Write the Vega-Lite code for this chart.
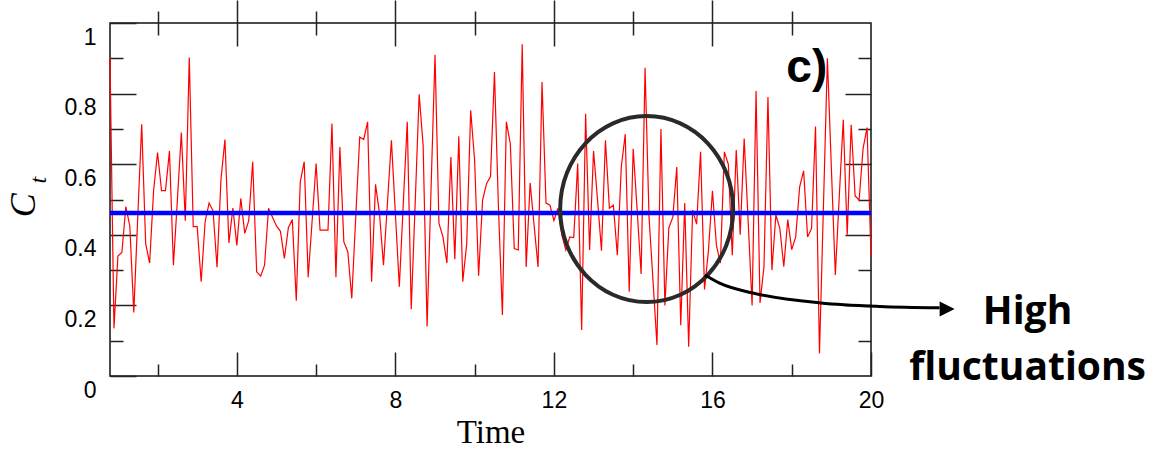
{
  "$schema": "https://vega.github.io/schema/vega-lite/v6.json",
  "width": 761,
  "height": 353,
  "autosize": {"type": "none"},
  "padding": {"left": 110, "top": 23, "right": 295, "bottom": 74},
  "background": "white",
  "data": {"values": [{}]},
  "config": {
    "view": {"stroke": "#111", "strokeWidth": 1.5},
    "axis": {"grid": false, "domain": false, "labelColor": "#000", "tickColor": "#222", "tickWidth": 1.5, "titleColor": "#000"}
  },
  "resolve": {"axis": {"x": "independent", "y": "independent"}},
  "layer": [
    {
      "data": {"values": [
        {"t":0.8,"c":0.90},{"t":0.9,"c":0.135},{"t":1.0,"c":0.34},{"t":1.1,"c":0.35},{"t":1.2,"c":0.48},{"t":1.3,"c":0.425},{"t":1.4,"c":0.18},{"t":1.5,"c":0.45},{"t":1.6,"c":0.713},{"t":1.7,"c":0.375},
        {"t":1.8,"c":0.32},{"t":1.9,"c":0.525},{"t":2.0,"c":0.633},{"t":2.1,"c":0.525},{"t":2.2,"c":0.525},{"t":2.3,"c":0.637},{"t":2.4,"c":0.314},{"t":2.5,"c":0.498},{"t":2.6,"c":0.69},{"t":2.7,"c":0.44},
        {"t":2.8,"c":0.902},{"t":2.9,"c":0.423},{"t":3.0,"c":0.423},{"t":3.1,"c":0.267},{"t":3.2,"c":0.437},{"t":3.3,"c":0.49},{"t":3.4,"c":0.468},{"t":3.5,"c":0.308},{"t":3.6,"c":0.557},{"t":3.7,"c":0.67},
        {"t":3.8,"c":0.377},{"t":3.9,"c":0.476},{"t":4.0,"c":0.37},{"t":4.1,"c":0.503},{"t":4.2,"c":0.404},{"t":4.3,"c":0.44},{"t":4.4,"c":0.607},{"t":4.5,"c":0.295},{"t":4.6,"c":0.283},{"t":4.7,"c":0.314},
        {"t":4.8,"c":0.475},{"t":4.9,"c":0.45},{"t":5.0,"c":0.425},{"t":5.1,"c":0.41},{"t":5.2,"c":0.333},{"t":5.3,"c":0.42},{"t":5.4,"c":0.443},{"t":5.5,"c":0.213},{"t":5.6,"c":0.55},{"t":5.7,"c":0.607},
        {"t":5.8,"c":0.28},{"t":5.9,"c":0.44},{"t":6.0,"c":0.602},{"t":6.1,"c":0.413},{"t":6.2,"c":0.413},{"t":6.3,"c":0.413},{"t":6.4,"c":0.715},{"t":6.5,"c":0.28},{"t":6.6,"c":0.649},{"t":6.7,"c":0.38},
        {"t":6.8,"c":0.352},{"t":6.9,"c":0.22},{"t":7.0,"c":0.45},{"t":7.1,"c":0.677},{"t":7.2,"c":0.67},{"t":7.3,"c":0.72},{"t":7.4,"c":0.267},{"t":7.5,"c":0.543},{"t":7.6,"c":0.46},{"t":7.7,"c":0.314},
        {"t":7.8,"c":0.49},{"t":7.9,"c":0.668},{"t":8.0,"c":0.46},{"t":8.1,"c":0.253},{"t":8.2,"c":0.49},{"t":8.3,"c":0.72},{"t":8.4,"c":0.189},{"t":8.5,"c":0.49},{"t":8.6,"c":0.798},{"t":8.7,"c":0.654},
        {"t":8.8,"c":0.14},{"t":8.9,"c":0.53},{"t":9.0,"c":0.91},{"t":9.1,"c":0.432},{"t":9.2,"c":0.394},{"t":9.3,"c":0.32},{"t":9.4,"c":0.62},{"t":9.5,"c":0.331},{"t":9.6,"c":0.679},{"t":9.7,"c":0.267},
        {"t":9.8,"c":0.375},{"t":9.9,"c":0.753},{"t":10.0,"c":0.61},{"t":10.1,"c":0.284},{"t":10.2,"c":0.498},{"t":10.3,"c":0.545},{"t":10.4,"c":0.565},{"t":10.5,"c":0.861},{"t":10.6,"c":0.48},{"t":10.7,"c":0.173},
        {"t":10.8,"c":0.72},{"t":10.9,"c":0.658},{"t":11.0,"c":0.361},{"t":11.1,"c":0.357},{"t":11.2,"c":0.94},{"t":11.3,"c":0.309},{"t":11.4,"c":0.547},{"t":11.5,"c":0.427},{"t":11.6,"c":0.309},{"t":11.7,"c":0.833},
        {"t":11.8,"c":0.49},{"t":11.9,"c":0.484},{"t":12.0,"c":0.44},{"t":12.1,"c":0.475},{"t":12.2,"c":0.40},{"t":12.3,"c":0.357},{"t":12.4,"c":0.394},{"t":12.5,"c":0.392},{"t":12.6,"c":0.602},{"t":12.7,"c":0.13},
        {"t":12.8,"c":0.743},{"t":12.9,"c":0.357},{"t":13.0,"c":0.637},{"t":13.1,"c":0.5},{"t":13.2,"c":0.355},{"t":13.3,"c":0.668},{"t":13.4,"c":0.475},{"t":13.5,"c":0.484},{"t":13.6,"c":0.342},{"t":13.7,"c":0.592},
        {"t":13.8,"c":0.685},{"t":13.9,"c":0.239},{"t":14.0,"c":0.644},{"t":14.1,"c":0.47},{"t":14.2,"c":0.289},{"t":14.3,"c":0.873},{"t":14.4,"c":0.45},{"t":14.5,"c":0.27},{"t":14.6,"c":0.088},{"t":14.7,"c":0.70},
        {"t":14.8,"c":0.2},{"t":14.9,"c":0.42},{"t":15.0,"c":0.45},{"t":15.1,"c":0.592},{"t":15.2,"c":0.144},{"t":15.3,"c":0.49},{"t":15.4,"c":0.083},{"t":15.5,"c":0.47},{"t":15.6,"c":0.43},{"t":15.7,"c":0.635},
        {"t":15.8,"c":0.245},{"t":15.9,"c":0.357},{"t":16.0,"c":0.525},{"t":16.1,"c":0.37},{"t":16.2,"c":0.32},{"t":16.3,"c":0.635},{"t":16.4,"c":0.60},{"t":16.5,"c":0.342},{"t":16.6,"c":0.64},{"t":16.7,"c":0.40},
        {"t":16.8,"c":0.673},{"t":16.9,"c":0.44},{"t":17.0,"c":0.2},{"t":17.1,"c":0.807},{"t":17.2,"c":0.207},{"t":17.3,"c":0.31},{"t":17.4,"c":0.79},{"t":17.5,"c":0.3},{"t":17.6,"c":0.456},{"t":17.7,"c":0.418},
        {"t":17.8,"c":0.31},{"t":17.9,"c":0.443},{"t":18.0,"c":0.358},{"t":18.1,"c":0.394},{"t":18.2,"c":0.536},{"t":18.3,"c":0.581},{"t":18.4,"c":0.394},{"t":18.5,"c":0.418},{"t":18.6,"c":0.707},{"t":18.7,"c":0.064},
        {"t":18.8,"c":0.48},{"t":18.9,"c":0.90},{"t":19.0,"c":0.59},{"t":19.1,"c":0.286},{"t":19.2,"c":0.51},{"t":19.3,"c":0.726},{"t":19.4,"c":0.4},{"t":19.5,"c":0.712},{"t":19.6,"c":0.51},{"t":19.7,"c":0.498},
        {"t":19.8,"c":0.644},{"t":19.9,"c":0.704},{"t":20.0,"c":0.342}
      ]},
      "mark": {"type": "line", "color": "#ff0000", "strokeWidth": 1.2},
      "encoding": {
        "x": {"field": "t", "type": "quantitative", "scale": {"domain": [0.8, 20], "nice": false, "zero": false},
          "axis": {"orient": "bottom", "values": [4, 8, 12, 16, 20], "format": "~g", "tickSize": -24, "labelPadding": 37, "labelFontSize": 23, "labelFont": "Liberation Sans", "labelFlush": false, "labelOverlap": false,
            "title": "Time", "titleFont": "Liberation Serif", "titleFontSize": 33, "titleFontWeight": "normal", "titlePadding": 4}},
        "y": {"field": "c", "type": "quantitative", "scale": {"domain": [0, 1], "nice": false, "zero": false},
          "axis": {"orient": "left", "values": [0, 0.2, 0.4, 0.6, 0.8, 1], "format": "~g", "tickSize": -26, "labelPadding": 40, "labelOffset": 14, "labelFontSize": 23, "labelFont": "Liberation Sans", "labelOverlap": false, "labelBound": false, "title": null}}
      }
    },
    {
      "mark": {"type": "rule", "color": "#0000ff", "strokeWidth": 4.5},
      "encoding": {
        "y": {"datum": 0.462, "type": "quantitative", "scale": {"domain": [0, 1], "nice": false, "zero": false}, "axis": null}
      }
    },
    {
      "mark": {"type": "point", "shape": "M -0.93 0 A 0.93 1 0 1 0 0.93 0 A 0.93 1 0 1 0 -0.93 0 Z", "size": 34596, "filled": false, "stroke": "#2a2a2a", "strokeWidth": 4, "opacity": 1},
      "encoding": {
        "x": {"datum": 14.34, "type": "quantitative", "scale": {"domain": [0.8, 20], "nice": false, "zero": false},
          "axis": {"orient": "bottom", "values": [2, 6, 10, 14, 18], "tickSize": -12, "labels": false, "title": null}},
        "y": {"datum": 0.473, "type": "quantitative", "scale": {"domain": [0, 1], "nice": false, "zero": false},
          "axis": {"orient": "left", "values": [0.1, 0.3, 0.5, 0.7, 0.9], "tickSize": -13, "labels": false, "title": null}}
      }
    },
    {
      "data": {"values": [
        {"t": 15.81, "c": 0.286}, {"t": 16.18, "c": 0.263}, {"t": 17.02, "c": 0.235}, {"t": 18.73, "c": 0.207}, {"t": 20.22, "c": 0.197}, {"t": 21.73, "c": 0.193}
      ]},
      "mark": {"type": "line", "color": "#000", "strokeWidth": 3, "interpolate": "monotone", "clip": false},
      "encoding": {
        "x": {"field": "t", "type": "quantitative", "scale": {"domain": [0.8, 20], "nice": false, "zero": false},
          "axis": {"orient": "top", "values": [4, 8, 12, 16], "offset": -23, "tickSize": 46, "labels": false, "title": null}},
        "y": {"field": "c", "type": "quantitative", "scale": {"domain": [0, 1], "nice": false, "zero": false},
          "axis": {"orient": "right", "values": [0.2, 0.4, 0.6, 0.8], "tickSize": -26, "labels": false, "title": null}}
      }
    },
    {
      "mark": {"type": "point", "shape": "M -1 -1 L 1 0 L -1 1 Z", "size": 225, "filled": true, "color": "#000", "opacity": 1},
      "encoding": {
        "x": {"datum": 21.92, "type": "quantitative", "scale": {"domain": [0.8, 20], "nice": false, "zero": false},
          "axis": {"orient": "top", "values": [2, 6, 10, 14, 18], "offset": -12, "tickSize": 24, "labels": false, "title": null}},
        "y": {"datum": 0.19, "type": "quantitative", "scale": {"domain": [0, 1], "nice": false, "zero": false},
          "axis": {"orient": "right", "values": [0.1, 0.3, 0.5, 0.7, 0.9], "tickSize": -13, "labels": false, "title": null}}
      }
    },
    {
      "mark": {"type": "text", "text": "c)", "font": "Liberation Sans", "fontWeight": "bold", "fontSize": 46, "align": "center", "baseline": "alphabetic", "color": "#000"},
      "encoding": {
        "x": {"datum": 18.38, "type": "quantitative", "axis": null},
        "y": {"datum": 0.833, "type": "quantitative", "axis": null}
      }
    },
    {
      "mark": {"type": "text", "text": ["High", "fluctuations"], "font": "Open Sans", "fontWeight": "bold", "fontSize": 39, "lineHeight": 56, "align": "center", "baseline": "alphabetic", "color": "#000"},
      "encoding": {
        "x": {"datum": 23.95, "type": "quantitative", "axis": null},
        "y": {"datum": 0.147, "type": "quantitative", "axis": null}
      }
    },
    {
      "mark": {"type": "text", "text": "C", "font": "Liberation Serif", "fontStyle": "italic", "fontSize": 36, "angle": 270, "align": "center", "baseline": "middle", "color": "#000"},
      "encoding": {
        "x": {"datum": -1.37, "type": "quantitative", "axis": null},
        "y": {"datum": 0.484, "type": "quantitative", "axis": null}
      }
    },
    {
      "mark": {"type": "text", "text": "t", "font": "Liberation Serif", "fontStyle": "italic", "fontSize": 24, "angle": 270, "align": "center", "baseline": "middle", "color": "#000"},
      "encoding": {
        "x": {"datum": -1.0, "type": "quantitative", "axis": null},
        "y": {"datum": 0.555, "type": "quantitative", "axis": null}
      }
    }
  ]
}
